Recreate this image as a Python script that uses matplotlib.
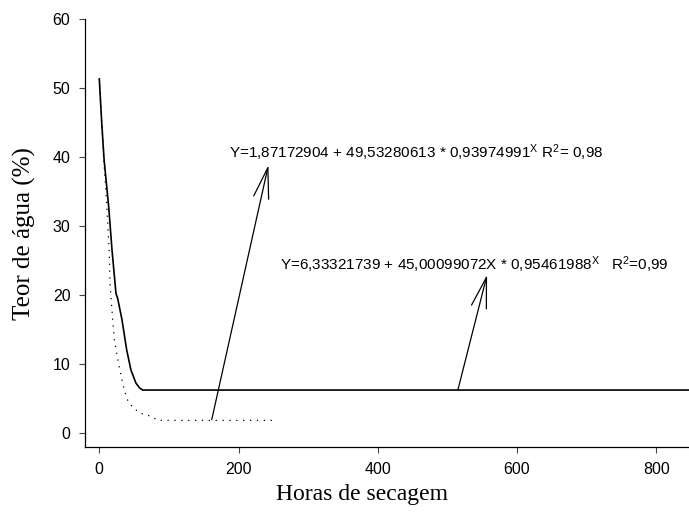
import matplotlib
matplotlib.use("Agg")
import matplotlib.pyplot as plt

plt.rcParams['font.family'] = ['Liberation Sans', 'DejaVu Sans']
plt.rcParams['mathtext.fontset'] = 'custom'
plt.rcParams['mathtext.rm'] = 'Liberation Sans'
plt.rcParams['mathtext.it'] = 'Liberation Sans'
plt.rcParams['mathtext.sf'] = 'Liberation Sans'

# Solid curve (model 2)
solid_x = [0, 3.5, 7.0, 13.5, 18.3, 24.0, 26.4, 32.6, 39.4, 45.5, 52.7, 58, 62.4, 100, 300, 600, 850]
solid_y = [51.4, 45.0, 39.5, 32.8, 26.5, 20.2, 19.5, 16.4, 12.0, 9.1, 7.2, 6.5, 6.2, 6.2, 6.2, 6.2, 6.2]

# Dotted curve (model 1)
dot_x = [0, 3.5, 6.5, 10.6, 14.4, 15.4, 18.2, 21.6, 27.9, 35.9, 42.2, 57.5, 74.3, 83.9, 150, 250]
dot_y = [51.4, 45.0, 39.5, 33.3, 26.0, 21.7, 17.8, 13.5, 9.9, 6.2, 4.3, 2.9, 2.4, 1.8, 1.8, 1.8]

x_ticks = [0, 200, 400, 600, 800]
y_ticks = [0, 10, 20, 30, 40, 50, 60]

eq1 = r"Y=1,87172904 + 49,53280613 * 0,93974991$^{\mathrm{X}}$ R$^{\mathrm{2}}$= 0,98"
eq2 = r"Y=6,33321739 + 45,00099072X * 0,95461988$^{\mathrm{X}}$   R$^{\mathrm{2}}$=0,99"

# annotation anchors (data units): arrow tail, arrow tip, text position
ann1_tail, ann1_tip, ann1_text = (161.5, 1.9), (242.9, 38.8), (187, 40.6)
ann2_tail, ann2_tip, ann2_text = (515, 6.2), (557, 22.9), (260, 24.4)

fig = plt.figure(figsize=(6.89, 5.16), dpi=100)
ax = fig.add_axes([85/689, (516-447.3)/516, 1 - 85/689, (447.3-19)/516])

ax.plot(solid_x, solid_y, color='black', lw=1.2, solid_capstyle='butt')
ax.plot(dot_x, dot_y, color='black', lw=0.9, linestyle=(0, (1, 4.5)))

ax.set_xlim(-20.5, 847)
ax.set_ylim(-2.1, 60)
ax.set_xticks(x_ticks)
ax.set_yticks(y_ticks)
ax.tick_params(direction='out', length=4.5, width=0.8, labelsize=11.5, pad=6, color='#444444')
for s in ['top', 'right']:
    ax.spines[s].set_visible(False)
for s in ['left', 'bottom']:
    ax.spines[s].set_linewidth(0.9)

ax.set_xlabel("Horas de secagem", family='Liberation Serif', fontsize=17, labelpad=8)
ax.xaxis.set_label_coords(0.459, -0.085)
ax.set_ylabel("Teor de água (%)", family='Liberation Serif', fontsize=18, labelpad=12)

arrow = dict(arrowstyle='->,head_length=2.2,head_width=0.55', color='black', lw=0.9,
             shrinkA=0, shrinkB=0, mutation_scale=10)
ax.annotate('', xy=ann1_tip, xytext=ann1_tail, arrowprops=arrow)
ax.annotate('', xy=ann2_tip, xytext=ann2_tail, arrowprops=arrow)
ax.text(ann1_text[0], ann1_text[1], eq1, fontsize=11, va='center', ha='left')
ax.text(ann2_text[0], ann2_text[1], eq2, fontsize=11, va='center', ha='left')

fig.savefig("out.png", dpi=100)
